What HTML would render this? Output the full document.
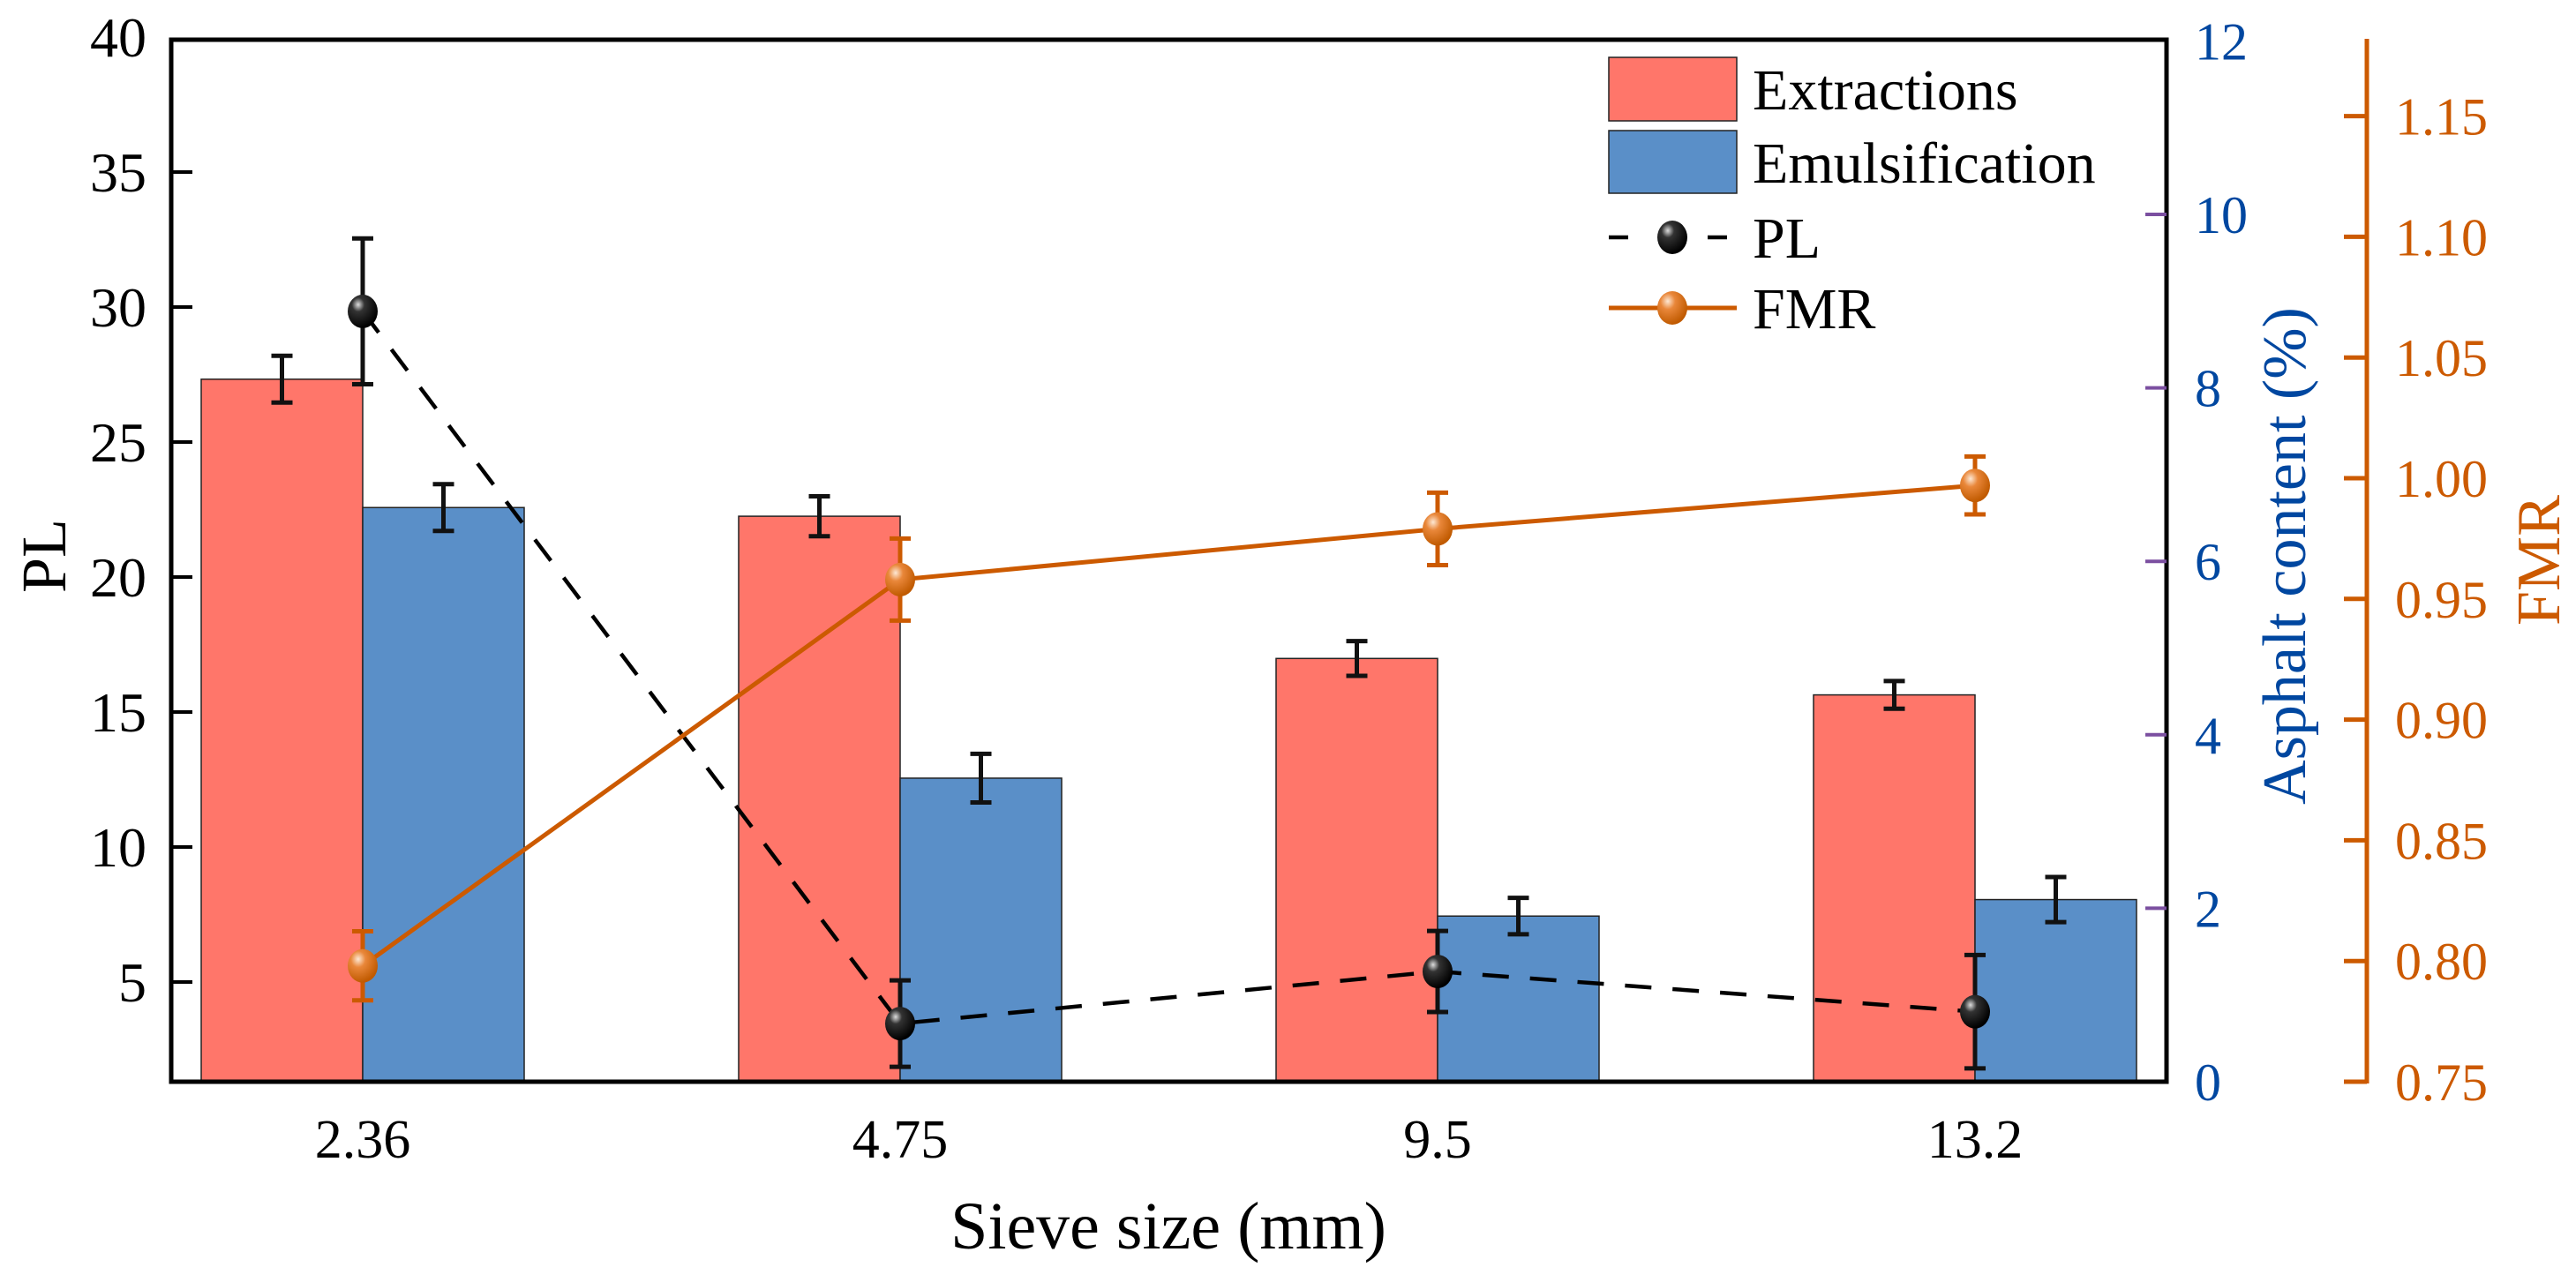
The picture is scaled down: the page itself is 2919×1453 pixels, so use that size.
<!DOCTYPE html>
<html><head><meta charset="utf-8"><style>
html,body{margin:0;padding:0;background:#fff;}
svg{display:block;font-family:"Liberation Serif",serif;}
</style></head><body>
<svg id="chart" width="2919" height="1453" viewBox="0 0 2919 1453" xmlns="http://www.w3.org/2000/svg">
<defs>
<radialGradient id="gBlack" cx="0.35" cy="0.3" r="0.7"><stop offset="0" stop-color="#ddd"/><stop offset="0.3" stop-color="#333"/><stop offset="1" stop-color="#000"/></radialGradient>
<radialGradient id="gOrange" cx="0.35" cy="0.3" r="0.7"><stop offset="0" stop-color="#fde8d4"/><stop offset="0.35" stop-color="#e9873a"/><stop offset="1" stop-color="#c05a00"/></radialGradient>
</defs>
<g id="layer"></g>
</svg>
<script>
const categories = ["2.36","4.75","9.5","13.2"];
const extractions = [8.1, 6.52, 4.88, 4.46];
const extractionsErr = [0.27, 0.23, 0.2, 0.16];
const emulsification = [6.62, 3.5, 1.91, 2.1];
const emulsificationErr = [0.27, 0.28, 0.21, 0.26];
const plValues = [29.84, 3.46, 5.39, 3.9];
const plErr = [2.7, 1.6, 1.5, 2.1];
const fmrValues = [0.798, 0.958, 0.979, 0.997];
const fmrErr = [0.0143, 0.017, 0.015, 0.012];
const plTicks = [5,10,15,20,25,30,35,40];
const asphaltTicks = [0,2,4,6,8,10,12];
const fmrTicks = ["0.75","0.80","0.85","0.90","0.95","1.00","1.05","1.10","1.15"];

const NS="http://www.w3.org/2000/svg";
const L=document.getElementById('layer');
function mk(tag,attrs,parent){const e=document.createElementNS(NS,tag);for(const k in attrs)e.setAttribute(k,attrs[k]);(parent||L).appendChild(e);return e;}
const X0=194,X1=2455,Y0=1226,Y1=45;
const xC=i=>411+i*609;
const yPL=v=>1113-(v-5)*30.6;
const yA=v=>Y0-v*98.3;
const yF=v=>Y0-(v-0.75)*2736;
const BW=183;

const bars=mk('g',{});


categories.forEach((c,i)=>{
  let r=mk('rect',{x:xC(i)-BW,y:yA(extractions[i]),width:BW,height:Y0-yA(extractions[i]),fill:'#ff766a',stroke:'#222','stroke-width':1.5},bars);
  
  
  let b=mk('rect',{x:xC(i),y:yA(emulsification[i]),width:BW,height:Y0-yA(emulsification[i]),fill:'#5a8fc8',stroke:'#222','stroke-width':1.5},bars);
  
  
});
function errbar(x,yt,yb,color,name){
  const g=mk('g',{stroke:color,'stroke-width':5});
  
  
  mk('line',{x1:x,x2:x,y1:yt,y2:yb},g);
  mk('line',{x1:x-12,x2:x+12,y1:yt,y2:yt},g);
  mk('line',{x1:x-12,x2:x+12,y1:yb,y2:yb},g);
}
categories.forEach((c,i)=>{
  errbar(xC(i)-BW/2,yA(extractions[i]+extractionsErr[i]),yA(extractions[i]-extractionsErr[i]),'#111','error-extractions-'+c);
  errbar(xC(i)+BW/2,yA(emulsification[i]+emulsificationErr[i]),yA(emulsification[i]-emulsificationErr[i]),'#111','error-emulsification-'+c);
});
let plLine=mk('polyline',{points:plValues.map((v,i)=>xC(i)+','+yPL(v)).join(' '),fill:'none',stroke:'#000','stroke-width':4.5,'stroke-dasharray':'30,24'});


let fLine=mk('polyline',{points:fmrValues.map((v,i)=>xC(i)+','+yF(v)).join(' '),fill:'none',stroke:'#cc5a00','stroke-width':5});


categories.forEach((c,i)=>{
  errbar(xC(i),yPL(plValues[i]+plErr[i]),yPL(plValues[i]-plErr[i]),'#111','error-pl-'+c);
  errbar(xC(i),yF(fmrValues[i]+fmrErr[i]),yF(fmrValues[i]-fmrErr[i]),'#cc5a00','error-fmr-'+c);
  let p=mk('ellipse',{cx:xC(i),cy:yPL(plValues[i]),rx:17,ry:19,fill:'url(#gBlack)'});
  
  
  let f=mk('ellipse',{cx:xC(i),cy:yF(fmrValues[i]),rx:17,ry:19,fill:'url(#gOrange)'});
  
  
});
let fr=mk('rect',{x:X0,y:Y1,width:X1-X0,height:Y0-Y1,fill:'none',stroke:'#000','stroke-width':5});


plTicks.forEach(t=>{
  const y=yPL(t);
  if(t<40) mk('line',{x1:X0,x2:X0+24,y1:y,y2:y,stroke:'#000','stroke-width':4});
  let tx=mk('text',{x:166,y:y+22,'font-size':64,'text-anchor':'end',fill:'#000'});
  tx.textContent=t;
  
  
});
asphaltTicks.forEach(t=>{
  const y=yA(t);
  if(t>0&&t<12) mk('line',{x1:X1-24,x2:X1,y1:y,y2:y,stroke:'#7b4fa0','stroke-width':4});
  let tx=mk('text',{x:2487,y:y+21,'font-size':60,fill:'#0047a0'});
  tx.textContent=t;
  
  
});
let fa=mk('line',{x1:2682,x2:2682,y1:44,y2:Y0+2,stroke:'#cc5a00','stroke-width':5});


fmrTicks.forEach(t=>{
  const y=yF(parseFloat(t));
  mk('line',{x1:2656,x2:2682,y1:y,y2:y,stroke:'#cc5a00','stroke-width':5});
  let tx=mk('text',{x:2714,y:y+21,'font-size':60,fill:'#cc5a00'});
  tx.textContent=t;
  
  
});
categories.forEach((c,i)=>{
  let tx=mk('text',{x:xC(i),y:1312,'font-size':62,'text-anchor':'middle',fill:'#000'});
  tx.textContent=c;
  
  
});
function title(txt,x,y,rot,color,name,size){
  let t=mk('text',{x:x,y:y,'font-size':size,'text-anchor':'middle',fill:color,transform:rot?`rotate(-90 ${x} ${y})`:''});
  t.textContent=txt;
  
  
}
title('Sieve size (mm)',1324,1415,false,'#000','x-axis-title',76);
title('PL',74,630,true,'#000','y-left-axis-title',72);
title('Asphalt content (%)',2612,630,true,'#0047a0','y-asphalt-axis-title',70);
title('FMR',2900,635,true,'#cc5a00','y-fmr-axis-title',70);
const lg=mk('g',{});


let r1=mk('rect',{x:1823,y:65,width:145,height:72,fill:'#ff766a',stroke:'#222','stroke-width':1.5},lg);


let r2=mk('rect',{x:1823,y:148,width:145,height:71,fill:'#5a8fc8',stroke:'#222','stroke-width':1.5},lg);


mk('line',{x1:1823,x2:1968,y1:269,y2:269,stroke:'#000','stroke-width':4.5,'stroke-dasharray':'22,34'},lg);
mk('ellipse',{cx:1895,cy:269,rx:17,ry:19,fill:'url(#gBlack)'},lg);
mk('line',{x1:1823,x2:1968,y1:349,y2:349,stroke:'#cc5a00','stroke-width':5},lg);
mk('ellipse',{cx:1895,cy:349,rx:17,ry:19,fill:'url(#gOrange)'},lg);
[['Extractions',124],['Emulsification',207],['PL',292],['FMR',372]].forEach(([t,y])=>{
  let tx=mk('text',{x:1986,y:y,'font-size':66,fill:'#000'},lg);
  tx.textContent=t;
  
  
});
</script>
</body></html>
